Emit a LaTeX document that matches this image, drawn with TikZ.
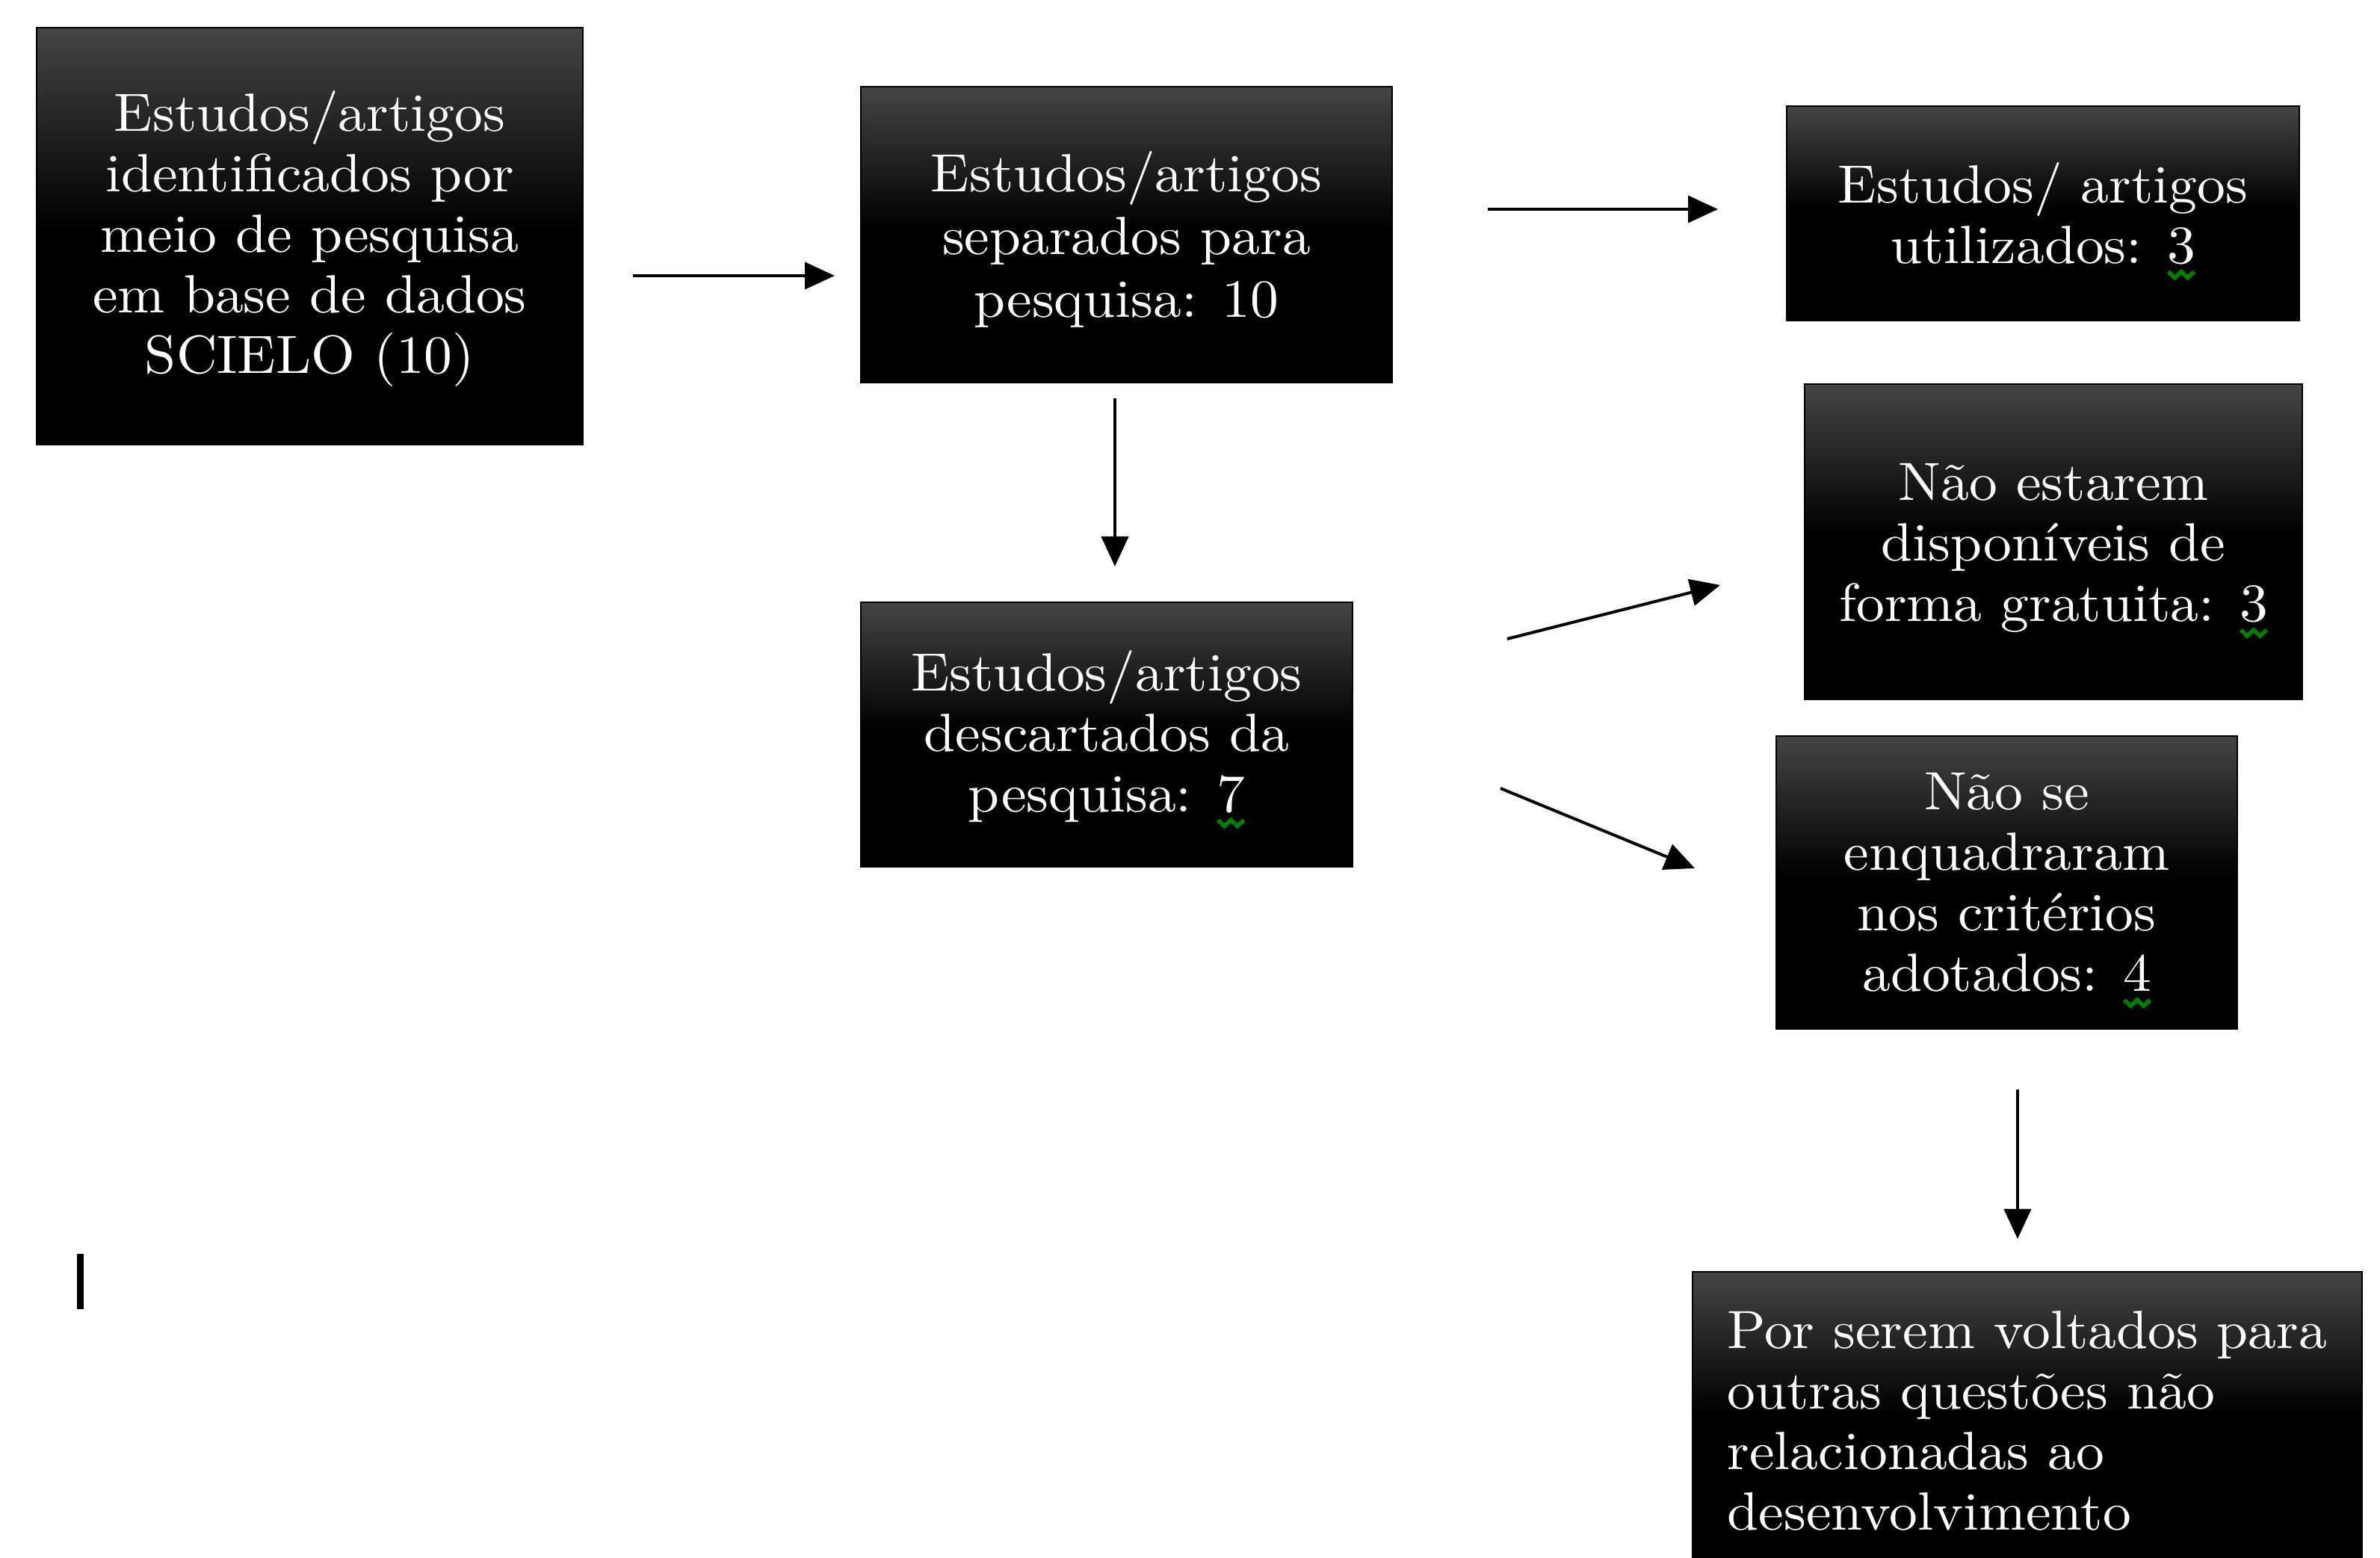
\documentclass[tikz,border=0pt]{standalone}
\usepackage{fontspec}
\setmainfont{lmroman10-regular.otf}[FakeStretch=1.05]
\usetikzlibrary{arrows.meta}
\definecolor{topgray}{gray}{0.27}
\pgfdeclareverticalshading{boxshade}{100bp}{color(0bp)=(black); color(25bp)=(black); color(51bp)=(black); color(75bp)=(topgray); color(100bp)=(topgray)}
\tikzset{
  box/.style={draw=black, line width=0.6pt, shade, shading=boxshade, text=white, align=center,
    inner sep=0pt, outer sep=0pt, font=\fontsize{18}{20.25}\selectfont},
  arr/.style={line width=1pt, -{Triangle[length=10pt,width=9pt]}},
  squig/.style={draw=green!50!black, line width=1.4pt}
}
\newcommand\sq[1]{\rlap{#1}\tikz[baseline=0pt]{\useasboundingbox (0pt,0pt) rectangle (0.52em,0pt); \draw[squig] (0.02em,-0.16em) -- ++(0.12em,-0.11em) -- ++(0.12em,0.11em) -- ++(0.12em,-0.11em) -- ++(0.12em,0.11em);}}
\newcommand\lift[1]{\rule{0pt}{#1}}

\begin{document}
\begin{tikzpicture}[x=0.25pt,y=-0.25pt]
\useasboundingbox (0,0) rectangle (3185,2085);
\fill[white] (0,0) rectangle (3185,2085);
\begin{scope}
\clip (0,0) rectangle (3185,2085);

\node[box, minimum width=182.75pt, minimum height=139.5pt] (b1) at (414.5,316)
  {\lift{15.5pt}Estudos/artigos\\identificados por\\meio de pesquisa\\em base de dados\\SCIELO (10)};
\node[box, minimum width=177.75pt, minimum height=99pt, font=\fontsize{18}{21}\selectfont] (b2) at (1507.5,314)
  {\lift{16.5pt}Estudos/artigos\\separados para\\pesquisa: 10};
\node[box, minimum width=171.5pt, minimum height=71.75pt] (b3) at (2734,285.5)
  {Estudos/ artigos\\utilizados: \sq{3}};
\node[box, minimum width=166.5pt, minimum height=105.5pt] (b4) at (2748,725)
  {\lift{16.5pt}Não estarem\\disponíveis de\\forma gratuita: \sq{3}};
\node[box, minimum width=164.5pt, minimum height=88.5pt] (b5) at (1481,983)
  {\lift{14.5pt}Estudos/artigos\\descartados da\\pesquisa: \sq{7}};
\node[box, minimum width=154.25pt, minimum height=98pt] (b6) at (2685.5,1181)
  {Não se\\enquadraram\\nos critérios\\adotados: \sq{4}};
\node[box, minimum width=224pt, minimum height=99.5pt, align=left] (b7) at (2713,1901)
  {Por serem voltados para\\outras questões não\\relacionadas ao\\desenvolvimento};

\coordinate (a1s) at (847,369);   \coordinate (a1e) at (1117,369);
\coordinate (a2s) at (1991,280);  \coordinate (a2e) at (2299,280);
\coordinate (a3s) at (1492,533);  \coordinate (a3e) at (1492,758);
\coordinate (a4s) at (2017,855);  \coordinate (a4e) at (2302,783);
\coordinate (a5s) at (2008,1055); \coordinate (a5e) at (2268,1162);
\coordinate (a6s) at (2700,1458); \coordinate (a6e) at (2700,1658);

\draw[arr] (a1s) -- (a1e);
\draw[arr] (a2s) -- (a2e);
\draw[arr] (a3s) -- (a3e);
\draw[arr] (a4s) -- (a4e);
\draw[arr] (a5s) -- (a5e);
\draw[arr] (a6s) -- (a6e);

\fill[black] (103,1678) rectangle (112,1752);
\end{scope}
\end{tikzpicture}
\end{document}
